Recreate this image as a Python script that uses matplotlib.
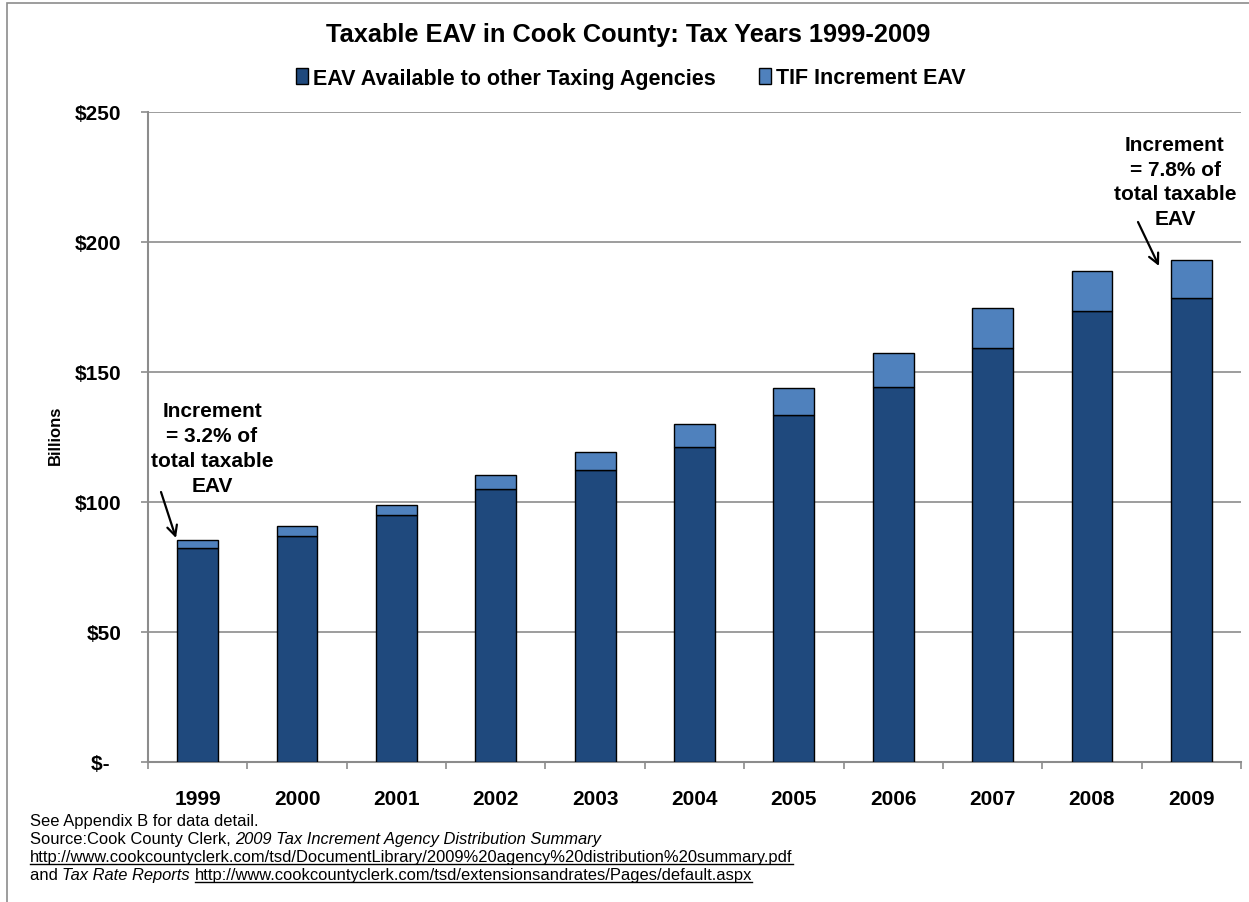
import matplotlib.pyplot as plt
from matplotlib.patches import Rectangle
from matplotlib.lines import Line2D

years = ['1999', '2000', '2001', '2002', '2003', '2004', '2005', '2006', '2007', '2008', '2009']
eav_available = [82.5, 87.0, 95.0, 105.0, 112.4, 121.3, 133.6, 144.1, 159.3, 173.6, 178.3]
tif_increment = [2.9, 3.8, 3.7, 5.3, 6.9, 8.6, 10.1, 13.3, 15.4, 15.2, 14.9]
y_ticks = [0, 50, 100, 150, 200, 250]
y_labels = ['$-  ', '$50', '$100', '$150', '$200', '$250']  # accounting style dash

DARK = '#1F497D'
LIGHT = '#4F81BD'
GRID = '#8C8C8C'

plt.rcParams['font.family'] = ['Liberation Sans', 'DejaVu Sans']

fig = plt.figure(figsize=(12.49, 9.03), dpi=100)
W, H = 1249, 903

# outer frame of the chart object
fig.patches.append(Rectangle((7 / W, -0.1), 1.2, (903 - 4) / H + 0.1, transform=fig.transFigure,
                             fill=False, edgecolor='#8C8C8C', lw=1.2))

ax = fig.add_axes([148 / W, (H - 763) / H, (1241 - 148) / W, (763 - 113) / H])
x = list(range(len(years)))
ax.bar(x, eav_available, width=0.41, color=DARK, edgecolor='black', lw=1.0, zorder=3,
       label='EAV Available to other Taxing Agencies')
ax.bar(x, tif_increment, width=0.41, bottom=eav_available, color=LIGHT, edgecolor='black', lw=1.0,
       zorder=3, label='TIF Increment EAV')

ax.set_xlim(-0.5, len(years) - 0.5)
ax.set_ylim(0, 250)
ax.set_yticks(y_ticks)
ax.set_yticklabels(y_labels, fontsize=15, fontweight='bold')
ax.yaxis.grid(True, color=GRID, lw=1.2, zorder=0)
ax.set_xticks(x)
ax.set_xticklabels(years, fontsize=15, fontweight='bold')
ax.tick_params(axis='x', length=0, pad=19.5)
ax.set_xticks([i - 0.5 for i in range(len(years) + 1)], minor=True)
ax.tick_params(axis='x', which='minor', length=5, color=GRID, width=1.2)
ax.tick_params(axis='y', length=5, color=GRID, width=1.2, pad=14)
for s in ['top', 'right']:
    ax.spines[s].set_visible(False)
for s in ['left', 'bottom']:
    ax.spines[s].set_color(GRID)
    ax.spines[s].set_linewidth(1.5)

fig.text(55 / W, 1 - 435 / H, 'Billions', rotation=90, fontsize=12, fontweight='bold',
         ha='center', va='center')

fig.text(628 / W, 1 - 35 / H, 'Taxable EAV in Cook County: Tax Years 1999-2009', fontsize=18.3,
         fontweight='bold', ha='center', va='center')

leg = fig.legend(loc='center', bbox_to_anchor=(631 / W, 1 - 79 / H), ncol=2, frameon=False,
                 prop={'weight': 'bold', 'size': 15.5}, handlelength=0.55, handleheight=0.8,
                 handletextpad=0.25, columnspacing=2.0)

# annotations
note_kw = dict(ha='center', va='center', fontsize=15, fontweight='bold', linespacing=1.38)
arrow_kw = dict(arrowstyle='->', color='black', lw=1.6, shrinkA=0, shrinkB=0, mutation_scale=18)
fig.text(212 / W, 1 - 449 / H, 'Increment\n= 3.2% of\ntotal taxable\nEAV', **note_kw)
fig.text(1175 / W, 1 - 182.5 / H, 'Increment\n= 7.8% of\ntotal taxable\nEAV', **note_kw)
ax.annotate('', xy=(176, H - 539), xycoords='figure pixels',
            xytext=(161, H - 493), textcoords='figure pixels', arrowprops=arrow_kw)
ax.annotate('', xy=(1159, H - 267), xycoords='figure pixels',
            xytext=(1138, H - 223), textcoords='figure pixels', arrowprops=arrow_kw)

# footnotes: pieces of (text, italic, underlined)
foot_lines = [
    [('See Appendix B for data detail.', False, False)],
    [('Source:Cook County Clerk, ', False, False),
     ('2009 Tax Increment Agency Distribution Summary', True, False)],
    [('http://www.cookcountyclerk.com/tsd/DocumentLibrary/2009%20agency%20distribution%20summary.pdf', False, True)],
    [('and ', False, False), ('Tax Rate Reports', True, False), (' ', False, False),
     ('http://www.cookcountyclerk.com/tsd/extensionsandrates/Pages/default.aspx', False, True)],
]
foot_y = [822, 840, 858, 876]
renderer = fig.canvas.get_renderer()
for pieces, yy in zip(foot_lines, foot_y):
    xpos = 30
    for txt, ital, under in pieces:
        t = fig.text(xpos / W, 1 - yy / H, txt, fontsize=11.85, style='italic' if ital else 'normal',
                     ha='left', va='center')
        bb = t.get_window_extent(renderer)
        if under:
            fig.add_artist(Line2D([bb.x0 / W, bb.x1 / W], [(bb.y0 + 1) / H, (bb.y0 + 1) / H],
                                  transform=fig.transFigure, color='black', lw=1.0))
        xpos = bb.x1

fig.savefig('out.png', dpi=100)
